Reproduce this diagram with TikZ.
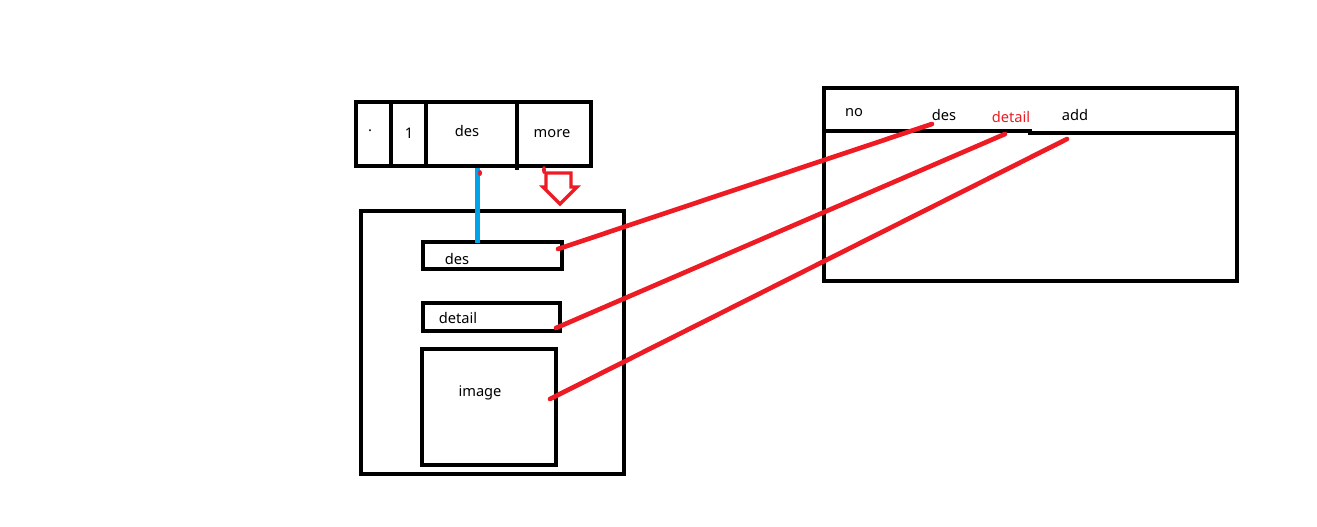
\documentclass[tikz,border=0pt]{standalone}
\usepackage{fontspec}
\setmainfont{Noto Sans}
\usetikzlibrary{positioning}
\definecolor{penred}{RGB}{237,28,36}
\definecolor{penblue}{RGB}{0,162,232}

\begin{document}
\begin{tikzpicture}[x=0.3mm,y=-0.3mm,
		box/.style 2 args={draw=black,line width=1.4mm,inner sep=0pt,outer sep=0pt,minimum width=#1*0.3mm,minimum height=#2*0.3mm},
		txt/.style={inner sep=0pt,font=\fontsize{12.5}{14}\selectfont},
		link/.style={draw=penred,line width=1.4mm,line cap=round}]
		\useasboundingbox (0,0) rectangle (1317,527);

		% top row of cells
		\node[box={35}{64}]		(cdot)	at (373.5,134)	{};
		\node[box={35}{64}]		(cone)	at (408.5,134)	{};
		\node[box={91}{64}]		(cdes)	at (471.5,134)	{};
		\node[box={74}{64}]		(cmore)	at (554,134)	{};
		\draw[line width=1.4mm] (cmore.south west) -- ++(0,4);
		\node[txt]	(tdot)	at (370,131)	{.};
		\node[txt]	(tone)	at (409,133)	{1};
		\node[txt]	(tdes)	at (467,131)	{des};
		\node[txt]	(tmore)	at (552,134)	{more};

		% detail page
		\node[box={263}{263}]	(page)		at (492.5,342.5)	{};
		\node[box={139}{27}]	(pdes)		at (492.5,255.5)	{};
		\node[box={137}{28}]	(pdetail)	at (491.5,317)		{};
		\node[box={134}{116}]	(pimage)	at (489,407)		{};
		\node[txt]	(tpdes)		at (457,259)	{des};
		\node[txt]	(tpdetail)	at (458,318)	{detail};
		\node[txt]	(tpimage)	at (480,393)	{image};

		% table
		\node[box={413}{193}]	(tbl)	at (1030.5,184.5)	{};
		\draw[line width=1.4mm] (824,131) -- (1030,131) -- (1030,133) -- (1237,133);
		\node[txt]				(hno)		at (854,113)	{no};
		\node[txt]				(hdes)		at (944,115)	{des};
		\node[txt,text=penred]	(hdetail)	at (1011,117)	{detail};
		\node[txt]				(hadd)		at (1075,115)	{add};

		% blue link and arrow
		\coordinate (btop) at (477,168);
		\coordinate (bbot) at (477,243);
		\draw[penblue,line width=1.5mm] (btop) -- (bbot);
		\fill[penred] (480,173) ellipse (2 and 3);
		\fill[penred] (544,170) ellipse (2 and 4);
		\draw[penred,line width=1mm,line join=miter]
			(546,173) -- (571,173) -- (571,187) -- (577,187) -- (560,204) -- (543,187) -- (546,187) -- cycle;

		% red links
		\coordinate (ldes)		at (558,249);
		\coordinate (ldetail)	at (556,328);
		\coordinate (limage)	at (550,399);
		\coordinate (rdes)		at (932,124);
		\coordinate (rdetail)	at (1005,134);
		\coordinate (radd)		at (1067,139);
		\draw[link] (ldes) -- (rdes);
		\draw[link] (ldetail) -- (rdetail);
		\draw[link] (limage) -- (radd);
	\end{tikzpicture}
\end{document}
